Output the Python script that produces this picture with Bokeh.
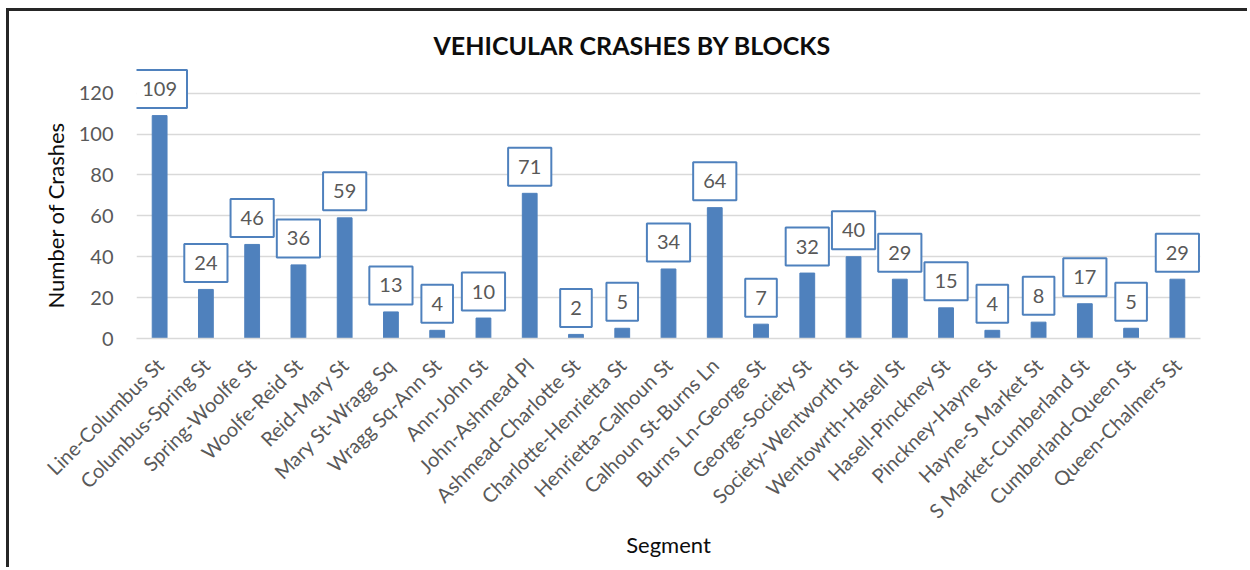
import math
from bokeh.plotting import figure
from bokeh.models import Label, FactorRange, Range1d, FixedTicker, Title
from bokeh.embed import file_html
from bokeh.resources import INLINE

segments = [
    "Line-Columbus St", "Columbus-Spring St", "Spring-Woolfe St", "Woolfe-Reid St",
    "Reid-Mary St", "Mary St-Wragg Sq", "Wragg Sq-Ann St", "Ann-John St",
    "John-Ashmead Pl", "Ashmead-Charlotte St", "Charlotte-Henrietta St",
    "Henrietta-Calhoun St", "Calhoun St-Burns Ln", "Burns Ln-George St",
    "George-Society St", "Society-Wentworth St", "Wentowrth-Hasell St",
    "Hasell-Pinckney St", "Pinckney-Hayne St", "Hayne-S Market St",
    "S Market-Cumberland St", "Cumberland-Queen St", "Queen-Chalmers St",
]
crashes = [109, 24, 46, 36, 59, 13, 4, 10, 71, 2, 5, 34, 64, 7, 32, 40, 29, 15, 4, 8, 17, 5, 29]
y_ticks = [0, 20, 40, 60, 80, 100, 120]

BLUE = "#4F81BD"
GRID = "#D9D9D9"
GRAY = "#595959"
DARK = "#0D0D0D"
FONT = "Lato"

p = figure(
    x_range=FactorRange(*segments, range_padding=0),
    y_range=Range1d(0, 134),
    width=1241, height=559,
    output_backend="svg", toolbar_location=None,
    min_border_left=127, min_border_right=50,
    min_border_top=53, min_border_bottom=232,
    title="VEHICULAR CRASHES BY BLOCKS",
)
p.styles = {
    "margin-left": "6px", "margin-top": "8px",
    "border-left": "3px solid #262626", "border-top": "3px solid #262626",
}

p.vbar(x=segments, top=crashes, width=0.32, color=BLUE)

p.title.text_font = FONT
p.title.text_font_size = "25px"
p.title.text_font_style = "bold"
p.title.text_color = DARK
p.title.align = "left"
p.title.offset = 297
p.title.standoff = 9

p.outline_line_color = None
p.background_fill_color = "white"
p.border_fill_color = "white"

p.xgrid.grid_line_color = None
p.ygrid.grid_line_color = GRID
p.ygrid.grid_line_width = 1.5

p.yaxis.ticker = FixedTicker(ticks=y_ticks)
p.yaxis.axis_line_color = None
p.yaxis.major_tick_line_color = None
p.yaxis.minor_tick_line_color = None
p.yaxis.major_tick_out = 0
p.yaxis.major_tick_in = 0
p.yaxis.major_label_standoff = 23
p.yaxis.major_label_text_font = FONT
p.yaxis.major_label_text_font_size = "20px"
p.yaxis.major_label_text_color = GRAY

ytitle = Title(
    text="Number of Crashes", align="left", offset=30, standoff=13,
    text_font=FONT, text_font_size="22px", text_font_style="normal",
    text_color=DARK,
)
p.add_layout(ytitle, "left")

p.xaxis.axis_line_color = GRID
p.xaxis.axis_line_width = 1.5
p.xaxis.major_tick_line_color = None
p.xaxis.minor_tick_line_color = None
p.xaxis.major_tick_out = 0
p.xaxis.major_tick_in = 0
p.xaxis.major_label_orientation = math.pi / 4
p.xaxis.major_label_standoff = 23
p.xaxis.major_label_text_font = FONT
p.xaxis.major_label_text_font_size = "20px"
p.xaxis.major_label_text_color = GRAY
p.xaxis.axis_label = "Segment"
p.xaxis.axis_label_text_font = FONT
p.xaxis.axis_label_text_font_size = "22px"
p.xaxis.axis_label_text_font_style = "normal"
p.xaxis.axis_label_text_color = DARK
p.xaxis.axis_label_standoff = -3

# Data labels: factor i sits at synthetic coordinate i + 0.5 on the FactorRange
for i, v in enumerate(crashes):
    p.add_layout(Label(
        x=i + 0.5, y=v, text=str(v),
        text_align="center", text_baseline="bottom", y_offset=7.5,
        text_font=FONT, text_font_size="20px", text_color=GRAY,
        background_fill_color="white",
        border_line_color=BLUE, border_line_width=2,
        padding=dict(left=10, right=10, top=12, bottom=12),
    ))

open("out.html", "w").write(file_html(p, INLINE))
